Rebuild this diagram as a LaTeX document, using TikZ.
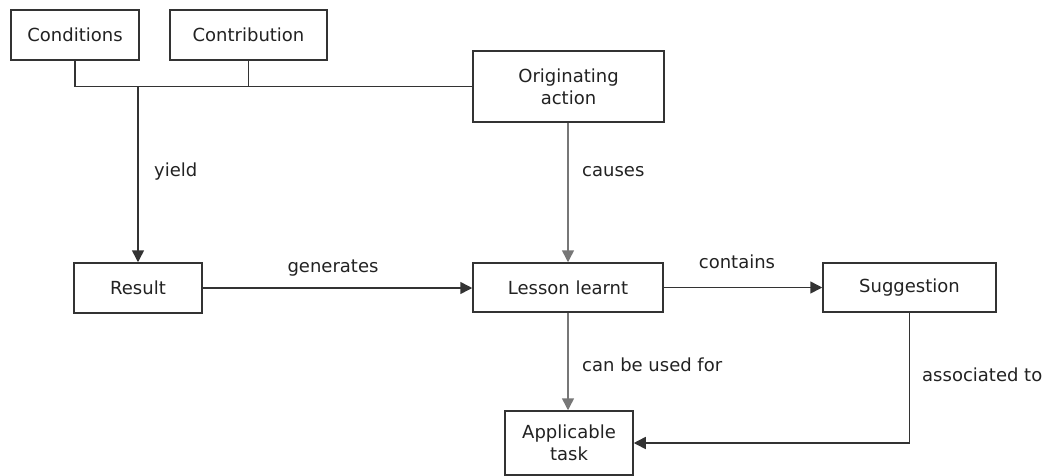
\documentclass[tikz,border=0pt]{standalone}
\usepackage{fontspec}
\setmainfont{DejaVu Sans}
\usetikzlibrary{arrows.meta}
\definecolor{edge}{HTML}{333333}
\definecolor{softedge}{HTML}{777777}
\definecolor{ink}{HTML}{222222}
\begin{document}
\begin{tikzpicture}[x=1pt,y=-1pt,
  box/.style={draw=edge,line width=1.5pt,fill=white,inner sep=0pt,
    align=center,text=ink,font=\fontsize{18}{22}\selectfont},
  link/.style={draw=edge,line width=1.5pt},
  flow/.style={link,-{Triangle[length=12pt,width=12pt]}},
  softflow/.style={flow,draw=softedge},
  lbl/.style={text=ink,font=\fontsize{18}{22}\selectfont,inner sep=0pt}]
\useasboundingbox (0,0) rectangle (1047,475);

% concepts
\node[box,minimum width=128pt,minimum height=50pt] (cond) at (75,35) {Conditions};
\node[box,minimum width=157pt,minimum height=50pt] (contrib) at (248.5,35) {Contribution};
\node[box,minimum width=191pt,minimum height=71pt] (orig) at (568.5,86.5) {Originating\\action};
\node[box,minimum width=128pt,minimum height=50pt] (result) at (138,288) {Result};
\node[box,minimum width=190pt,minimum height=49pt] (lesson) at (568,287.5) {Lesson learnt};
\node[box,minimum width=173pt,minimum height=49pt] (sugg) at (909.5,287.5) {Suggestion};
\node[box,minimum width=128pt,minimum height=64pt] (task) at (569,443) {Applicable\\task};

% joint of conditions, contribution and originating action
\coordinate (joint) at (result.north |- orig.west);
\draw[link] (cond.south) |- (orig.west);
\draw[link] (contrib.south) -- (contrib.south |- orig.west);
\draw[flow] (joint) -- (result.north);
\node[lbl,anchor=west] (yieldlbl) at (154,172) {yield};

\draw[flow] (result.east) -- (result.east -| lesson.west);
\node[lbl] (genlbl) at (333,268) {generates};

\draw[softflow] (orig.south -| lesson.north) -- (lesson.north);
\node[lbl,anchor=west] (causelbl) at (582,172) {causes};

\draw[flow] (lesson.east) -- (sugg.west);
\node[lbl] (contlbl) at (737,262) {contains};

\draw[softflow] (lesson.south) -- (lesson.south |- task.north);
\node[lbl,anchor=west] (uselbl) at (582,365) {can be used for};

\draw[flow] (sugg.south) |- (task.east);
\node[lbl,anchor=west] (assoclbl) at (922,375) {associated to};
\end{tikzpicture}
\end{document}
